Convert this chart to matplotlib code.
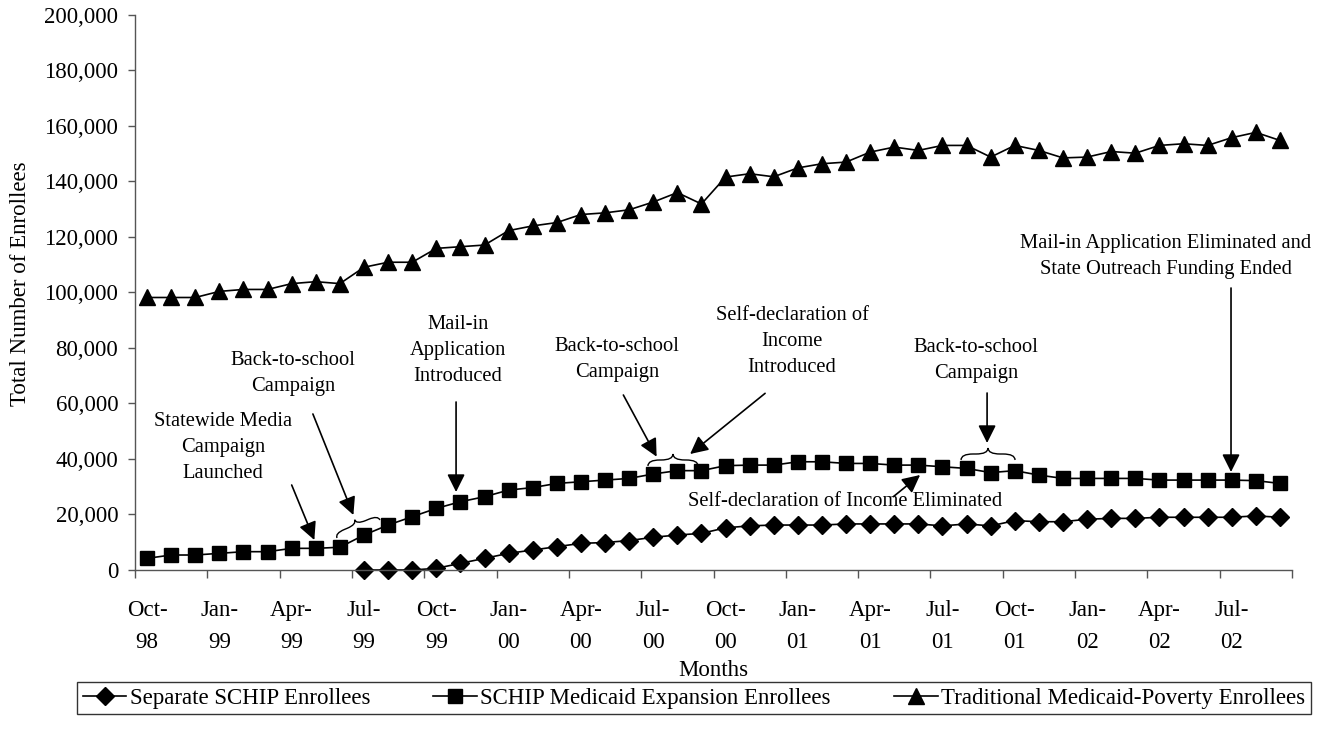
import matplotlib.pyplot as plt
import numpy as np
from matplotlib.path import Path
from matplotlib.patches import PathPatch
from matplotlib.ticker import FixedLocator, StrMethodFormatter

plt.rcParams["font.family"] = ["Liberation Serif", "DejaVu Serif"]

# monthly categories, Oct-98 .. Sep-02
months = [
    "Oct-98", "Nov-98", "Dec-98", "Jan-99", "Feb-99", "Mar-99", "Apr-99", "May-99",
    "Jun-99", "Jul-99", "Aug-99", "Sep-99", "Oct-99", "Nov-99", "Dec-99", "Jan-00",
    "Feb-00", "Mar-00", "Apr-00", "May-00", "Jun-00", "Jul-00", "Aug-00", "Sep-00",
    "Oct-00", "Nov-00", "Dec-00", "Jan-01", "Feb-01", "Mar-01", "Apr-01", "May-01",
    "Jun-01", "Jul-01", "Aug-01", "Sep-01", "Oct-01", "Nov-01", "Dec-01", "Jan-02",
    "Feb-02", "Mar-02", "Apr-02", "May-02", "Jun-02", "Jul-02", "Aug-02", "Sep-02",
]
tick_labels = ["Oct-\n98", "Jan-\n99", "Apr-\n99", "Jul-\n99", "Oct-\n99", "Jan-\n00",
               "Apr-\n00", "Jul-\n00", "Oct-\n00", "Jan-\n01", "Apr-\n01", "Jul-\n01",
               "Oct-\n01", "Jan-\n02", "Apr-\n02", "Jul-\n02"]

separate_schip = [
    None, None, None, None, None, None, None, None, None, 0, 0, 0,
    600, 2400, 4200, 6000, 7200, 8400, 9600, 9900, 10600, 11800, 12600, 13200,
    15200, 15900, 16200, 16200, 16200, 16600, 16600, 16600, 16600, 15900, 16600, 15900,
    17800, 17400, 17400, 18300, 18600, 18600, 19000, 19000, 19000, 19000, 19500, 19000,
]
schip_medicaid = [
    4200, 5400, 5400, 6000, 6600, 6600, 7800, 7800, 8200, 12600, 16200, 19200,
    22200, 24600, 26400, 28800, 29700, 31200, 31800, 32400, 33000, 34600, 35800, 35800,
    37600, 37800, 37800, 39000, 39000, 38400, 38400, 37800, 37800, 37200, 36600, 35100,
    35800, 34200, 33000, 33000, 33000, 33000, 32400, 32400, 32400, 32400, 32200, 31200,
]
traditional_medicaid = [
    98200, 98200, 98200, 100400, 101100, 101100, 103200, 103900, 103200, 109100, 110900, 110900,
    115900, 116500, 117100, 122300, 124000, 125200, 128100, 128700, 129800, 132600, 136000, 131900,
    141600, 142800, 141700, 144900, 146400, 147000, 150600, 152400, 151200, 153000, 153000, 148800,
    153000, 151200, 148500, 148800, 150800, 150200, 153000, 153600, 153000, 155800, 157700, 154800,
]

series_names = ["Separate SCHIP Enrollees", "SCHIP Medicaid Expansion Enrollees",
                "Traditional Medicaid-Poverty Enrollees"]

ANN_FS = 14.8
AX_FS = 16.5


def brace(ax, p0, p1, h):
    """Curly brace between two data points, bulging h pixels to the left of p0->p1."""
    a, b = ax.transData.transform([p0, p1])
    d = b - a
    L = np.hypot(*d)
    u = d / L
    n = np.array([-u[1], u[0]])
    r = min(h, L / 4)
    loc = [(0, 0), (0, h / 2), (r, h / 2), (L / 2 - r, h / 2), (L / 2, h / 2), (L / 2, h),
           (L / 2, h / 2), (L / 2 + r, h / 2), (L - r, h / 2), (L, h / 2), (L, 0)]
    codes = [Path.MOVETO, Path.CURVE3, Path.CURVE3, Path.LINETO, Path.CURVE3, Path.CURVE3,
             Path.CURVE3, Path.CURVE3, Path.LINETO, Path.CURVE3, Path.CURVE3]
    pts = np.array([a + t * u + s * n for t, s in loc])
    pts = ax.transData.inverted().transform(pts)
    ax.add_patch(PathPatch(Path(pts, codes), fc="none", ec="black", lw=1.0, clip_on=False))


def arrow(ax, start, tip):
    ax.annotate("", xy=tip, xytext=start, annotation_clip=False,
                arrowprops=dict(arrowstyle="-|>,head_length=0.6,head_width=0.3", mutation_scale=18,
                                color="black", lw=1.2, shrinkA=0, shrinkB=0))


def note(ax, x, y, s):
    ax.text(x, y, s, ha="center", va="center", fontsize=ANN_FS, linespacing=1.5)


fig = plt.figure(figsize=(13.31, 7.41), dpi=100)
ax = fig.add_axes([0.10143, 0.23077, 0.86927, 0.74899])

x = np.arange(len(months))
kw = dict(color="black", lw=1.2, clip_on=False)
ax.plot(x, np.array(separate_schip, dtype=float), marker="D", ms=9, label=series_names[0], **kw)
ax.plot(x, schip_medicaid, marker="s", ms=10.5, label=series_names[1], **kw)
ax.plot(x, traditional_medicaid, marker="^", ms=11.5, label=series_names[2], **kw)

ax.set_xlim(-0.5, len(months) - 0.5)
ax.set_ylim(0, 200000)

ax.set_xticks(x[::3])
ax.set_xticklabels(tick_labels, fontsize=AX_FS, linespacing=1.72)
ax.xaxis.set_minor_locator(FixedLocator(np.arange(-0.5, len(months), 3)))
ax.tick_params(axis="x", which="major", length=0, pad=21.5)
ax.tick_params(axis="x", which="minor", length=6, width=1, color="#555555", direction="out")
ax.set_yticks(np.arange(0, 200001, 20000))
ax.yaxis.set_major_formatter(StrMethodFormatter("{x:,.0f}"))
ax.tick_params(axis="y", length=5, width=1, color="#555555", pad=7, labelsize=AX_FS)

for side in ["top", "right"]:
    ax.spines[side].set_visible(False)
for side in ["left", "bottom"]:
    ax.spines[side].set_color("#555555")
    ax.spines[side].set_linewidth(1.0)

ax.set_ylabel("Total Number of Enrollees", fontsize=AX_FS)
ax.yaxis.set_label_coords(-0.090, 0.515)
ax.set_xlabel("Months", fontsize=AX_FS)
ax.xaxis.set_label_coords(0.5, -0.163)

# annotations
note(ax, 3.15, 44300, "Statewide Media\nCampaign\nLaunched")
arrow(ax, (6.00, 30630), (6.94, 10810))

note(ax, 6.06, 70990, "Back-to-school\nCampaign")
arrow(ax, (6.88, 56220), (8.56, 19820))
brace(ax, (7.88, 11530), (9.66, 18020), 10)

note(ax, 12.90, 78920, "Mail-in\nApplication\nIntroduced")
arrow(ax, (12.82, 60540), (12.82, 28110))

note(ax, 19.5, 75860, "Back-to-school\nCampaign")
arrow(ax, (19.76, 63060), (21.14, 40840))
brace(ax, (20.78, 37480), (22.86, 37480), 12)

note(ax, 26.76, 82520, "Self-declaration of\nIncome\nIntroduced")
arrow(ax, (25.64, 63660), (22.53, 41800))

note(ax, 28.96, 24860, "Self-declaration of Income Eliminated")
arrow(ax, (30.96, 26420), (32.07, 34230))

note(ax, 34.39, 75320, "Back-to-school\nCampaign")
arrow(ax, (34.85, 63780), (34.85, 45770))
brace(ax, (33.77, 39640), (36.01, 39640), 12)

note(ax, 42.27, 112970, "Mail-in Application Eliminated and\nState Outreach Funding Ended")
arrow(ax, (44.97, 101620), (44.97, 35320))

leg = fig.legend(loc="center", ncol=3, bbox_to_anchor=(0.0579, 0.0580, 0.927, 0), mode="expand",
                 fontsize=AX_FS, frameon=True, fancybox=False, edgecolor="black",
                 handlelength=1.9, handletextpad=0.15, borderpad=0.25, borderaxespad=0)
leg.get_frame().set_linewidth(1.0)

fig.savefig("out.png", dpi=100)
